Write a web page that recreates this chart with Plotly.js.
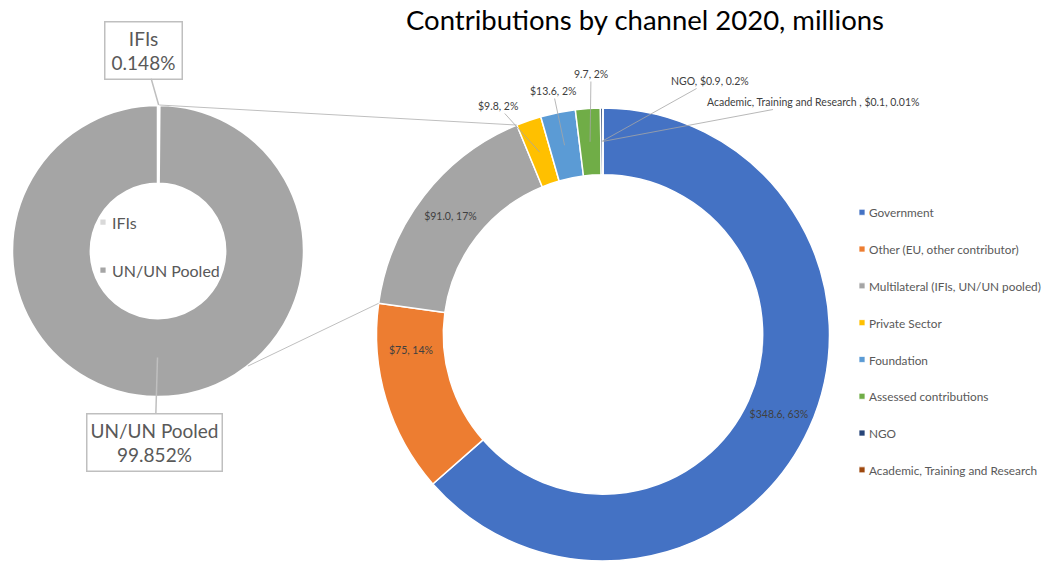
<!DOCTYPE html>
<html><head><meta charset="utf-8">
<script src="https://cdn.plot.ly/plotly-3.0.1.min.js"></script>
<style>html,body{margin:0;padding:0;background:#fff}#chart{width:1050px;height:561px}</style>
</head><body><div id="chart"></div>
<script>
// ---------------- data ----------------
const channels = ['Government', 'Other (EU, other contributor)', 'Multilateral (IFIs, UN/UN pooled)', 'Private Sector', 'Foundation', 'Assessed contributions', 'NGO', 'Academic, Training and Research'];
const amounts = [348.6, 75, 91.0, 9.8, 13.6, 9.7, 0.9, 0.1];
const sliceLabels = ['$348.6, 63%', '$75, 14%', '$91.0, 17%', '$9.8, 2%', '$13.6, 2%', '9.7, 2%', 'NGO, $0.9, 0.2%', 'Academic, Training and Research , $0.1, 0.01%'];
const multilateralParts = ['IFIs', 'UN/UN Pooled'];
const multilateralShares = [0.148, 99.852];
const multilateralShareLabels = ['0.148%', '99.852%'];
const chartTitle = 'Contributions by channel 2020, millions';

// ---------------- styles / layout ----------------
const W = 1050, H = 561;
const FONT = 'Lato, "Open Sans", sans-serif';
const channelColors = ['#4472C4', '#ED7D31', '#A5A5A5', '#FFC000', '#5B9BD5', '#70AD47', '#264478', '#9E480E'];
const partColors = ['#D9D9D9', '#A5A5A5'];
const mainDomain = {x: [376 / W, 830 / W], y: [0, 1 - 108 / H]};
const subDomain = {x: [12 / W, 304 / W], y: [1 - 397 / H, 1 - 105 / H]};
const mainHole = 0.705, subHole = 0.46;
const insideIdx = [0, 2];            // labelled by the pie itself
const ringLabelAngle = {1: 265.5};   // labelled inside the ring at a given angle
const multiIdx = 2;
const outsideLabelPx = {3: [498, 106], 4: [553, 91], 5: [591, 74], 6: [710, 81], 7: [813, 102]};
const calloutPx = [[143, 50], [155, 442]];
const calloutSize = [[70, 50], [128, 50]];
const lowerConnectorAngle = 142;
const sliceFont = {family: FONT, size: 10.5, color: '#404040'};

function geom(dom) {
  const w = (dom.x[1] - dom.x[0]) * W, h = (dom.y[1] - dom.y[0]) * H;
  return {cx: (dom.x[0] + dom.x[1]) / 2 * W, cy: (1 - (dom.y[0] + dom.y[1]) / 2) * H, R: Math.min(w, h) / 2};
}
function angles(vals) {
  const tot = vals.reduce((a, b) => a + b, 0); let c = 0;
  return vals.map(v => { const s = c / tot * 360; c += v; const e = c / tot * 360; return {start: s, end: e, mid: (s + e) / 2}; });
}
function pt(g, deg, r) { const a = deg * Math.PI / 180; return [g.cx + r * Math.sin(a), g.cy - r * Math.cos(a)]; }

const gMain = geom(mainDomain), gSub = geom(subDomain);
const mainAng = angles(amounts), subAng = angles(multilateralShares);

const mainTrace = {
  type: 'pie', labels: channels.map(c => '<span style="font-size:11.8px">' + c + '</span><br>\u00a0'),
  values: amounts, sort: false, direction: 'clockwise', rotation: 0, hole: mainHole,
  domain: mainDomain, marker: {colors: channelColors, line: {color: '#ffffff', width: 1.5}},
  text: sliceLabels.map((t, i) => insideIdx.includes(i) ? t : ''),
  textinfo: 'text', textposition: channels.map((c, i) => insideIdx.includes(i) ? 'inside' : 'none'),
  insidetextorientation: 'horizontal',
  insidetextfont: sliceFont,
  hoverinfo: 'none', legend: 'legend', showlegend: true
};
const subTrace = {
  type: 'pie', labels: multilateralParts.map(c => '<span style="font-size:16px">' + c + '</span><br>\u00a0'),
  values: multilateralShares, sort: false, direction: 'clockwise', rotation: 0, hole: subHole,
  domain: subDomain, marker: {colors: partColors, line: {color: '#ffffff', width: 2.5}},
  textinfo: 'none', hoverinfo: 'none', legend: 'legend2', showlegend: true
};

const shapes = [];
const lineStyle = {color: '#bfbfbf', width: 1};
[[pt(gSub, subAng[0].end, gSub.R), pt(gMain, mainAng[multiIdx].end, gMain.R)],
 [pt(gSub, lowerConnectorAngle, gSub.R), pt(gMain, mainAng[multiIdx].start, gMain.R)]].forEach(([a, b]) => {
  shapes.push({type: 'line', xref: 'paper', yref: 'paper', x0: a[0] / W, y0: 1 - a[1] / H, x1: b[0] / W, y1: 1 - b[1] / H, line: lineStyle});
});

const annotations = [];
Object.keys(ringLabelAngle).forEach(k => {
  const i = +k;
  const p = pt(gMain, ringLabelAngle[k], gMain.R * (1 + mainHole) / 2);
  annotations.push({xref: 'paper', yref: 'paper', x: p[0] / W, y: 1 - p[1] / H, text: sliceLabels[i],
    showarrow: false, xanchor: 'center', yanchor: 'middle', font: sliceFont});
});
Object.keys(outsideLabelPx).forEach(k => {
  const i = +k;
  const head = pt(gMain, mainAng[i].mid, gMain.R * (1 + mainHole) / 2);
  const lab = outsideLabelPx[k];
  annotations.push({
    xref: 'paper', yref: 'paper', x: head[0] / W, y: 1 - head[1] / H, text: sliceLabels[i],
    showarrow: true, arrowhead: 0, arrowwidth: 0.8, arrowcolor: '#a6a6a6', standoff: 0,
    ax: lab[0] - head[0], ay: lab[1] - head[1],
    font: sliceFont
  });
});
multilateralParts.forEach((p, i) => {
  const head = i === 0 ? pt(gSub, subAng[0].mid, gSub.R) : pt(gSub, subAng[1].mid, gSub.R * (1 + subHole) / 2);
  const lab = calloutPx[i];
  annotations.push({
    xref: 'paper', yref: 'paper', x: head[0] / W, y: 1 - head[1] / H,
    text: p + '<br>' + multilateralShareLabels[i],
    showarrow: true, arrowhead: 0, arrowwidth: 1.5, arrowcolor: '#bfbfbf', standoff: 0,
    ax: lab[0] - head[0], ay: lab[1] - head[1],
    width: calloutSize[i][0], height: calloutSize[i][1], borderpad: 3,
    bgcolor: '#ffffff', bordercolor: '#bfbfbf', borderwidth: 1.5,
    font: {family: FONT, size: 19, color: '#595959'}
  });
});

const layout = {
  width: W, height: H, margin: {l: 0, r: 0, t: 0, b: 0, autoexpand: false},
  paper_bgcolor: '#ffffff', plot_bgcolor: '#ffffff',
  title: {text: chartTitle, x: 645 / W, y: 1 - 20 / H, xanchor: 'center', yanchor: 'middle',
          font: {family: FONT, size: 27.5, color: '#000000'}},
  legend: {x: 829 / W, y: 1 - 197.3 / H, xanchor: 'left', yanchor: 'top', bgcolor: 'rgba(0,0,0,0)',
           valign: 'top', font: {family: FONT, size: 13, color: '#595959'}},
  legend2: {x: 72 / W, y: 1 - 204.3 / H, xanchor: 'left', yanchor: 'top', bgcolor: 'rgba(0,0,0,0)',
            valign: 'top', font: {family: FONT, size: 17.3, color: '#595959'}},
  shapes: shapes, annotations: annotations
};

Plotly.newPlot('chart', [mainTrace, subTrace], layout, {displayModeBar: false, staticPlot: true}).then(gd => {
  gd.querySelectorAll('g.legend .legendpie').forEach(p => p.setAttribute('transform', 'translate(33,0) scale(0.5)'));
  gd.querySelectorAll('g.legend2 .legendpie').forEach(p => p.setAttribute('transform', 'translate(31,0) scale(0.55)'));
});
</script>
</body></html>
